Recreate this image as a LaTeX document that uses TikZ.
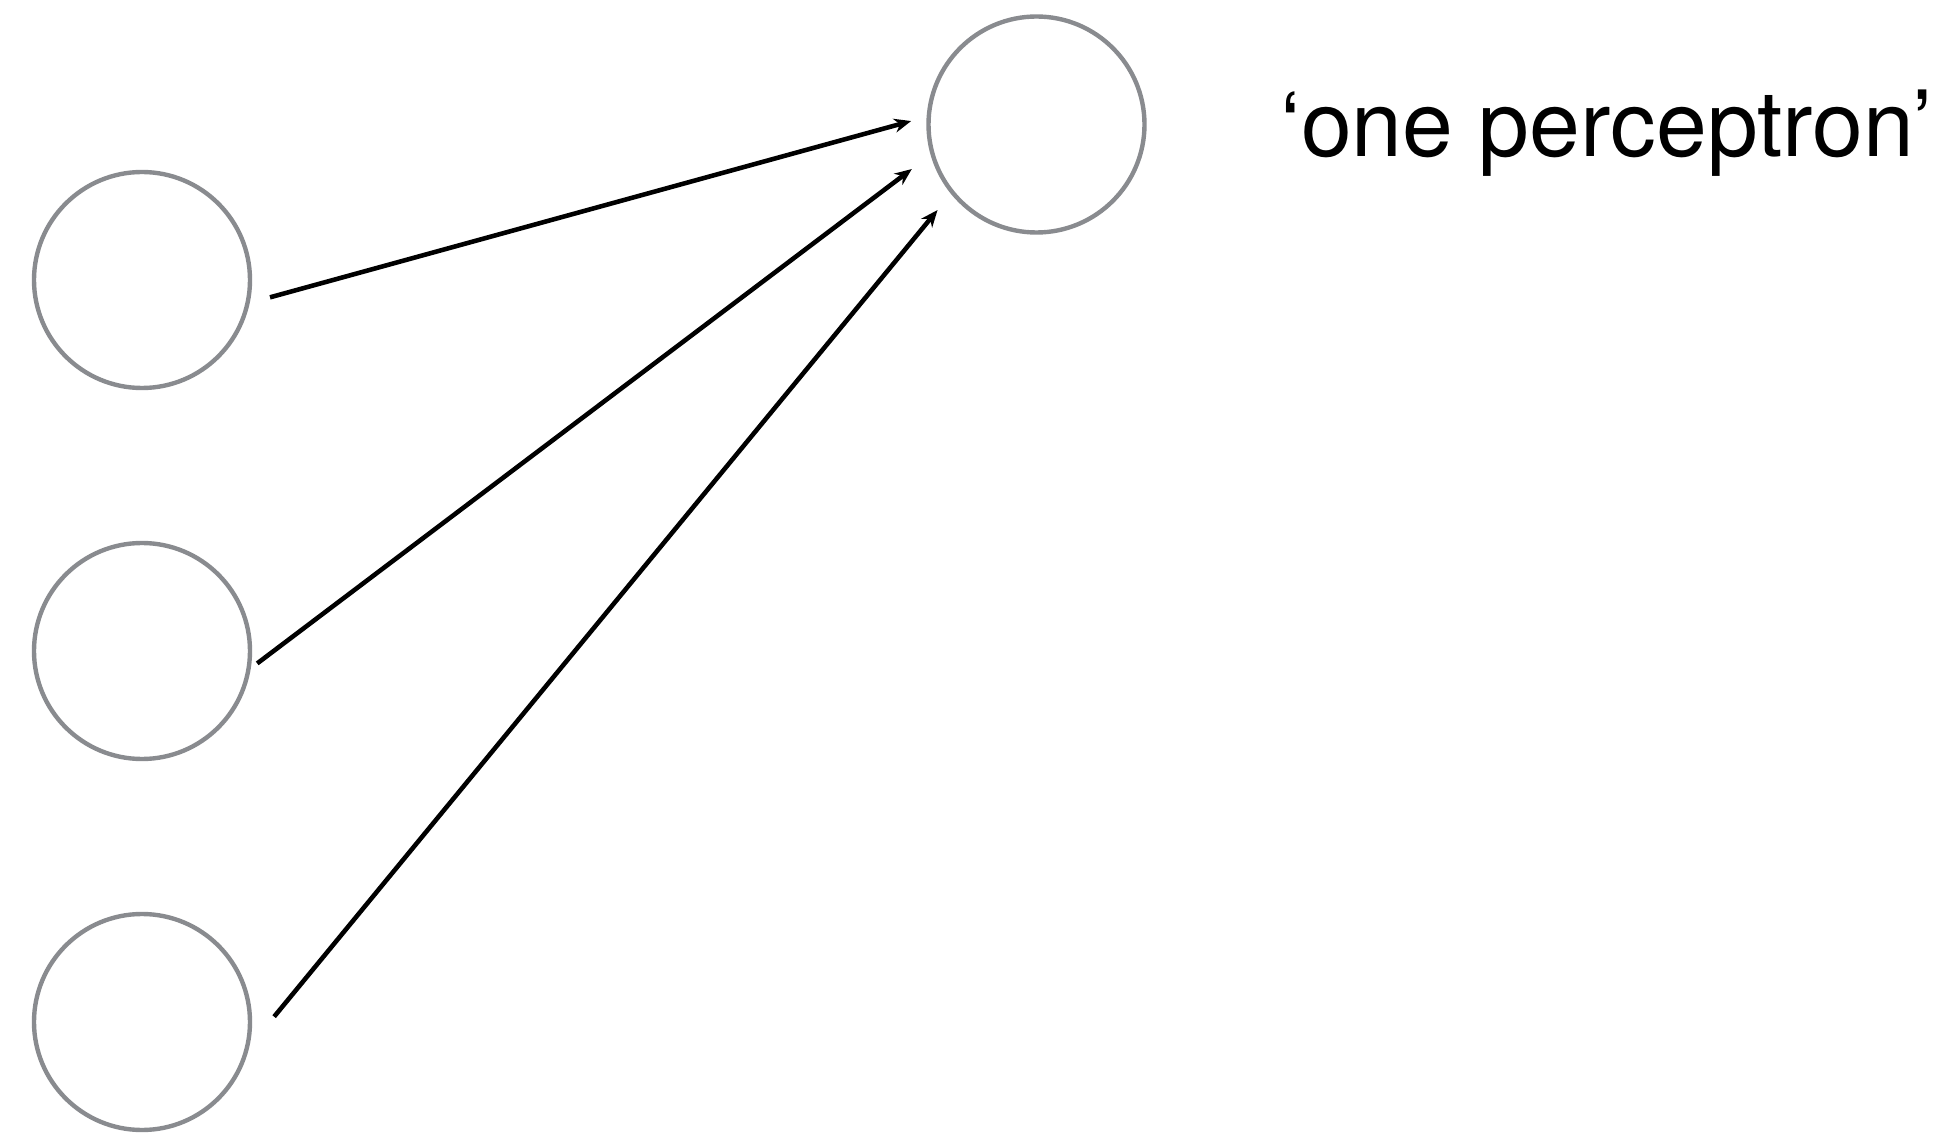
\documentclass[tikz,border=0pt]{standalone}
\usepackage{fontspec}
\setmainfont{TeX Gyre Heros}
\definecolor{NeuronGray}{RGB}{137,139,143}
\usetikzlibrary{arrows.meta, positioning}

\begin{document}
\begin{tikzpicture}[
	neuron/.style={circle, draw=NeuronGray, line width=1.25pt,
		minimum size=2.16cm, inner sep=0pt},
	fl/.style={-{Stealth[length=1.7mm, width=1.4mm]}, line width=1.3pt, black}]

	\useasboundingbox (0,0) rectangle (19.48,-11.35);

	% inputs
	\node[neuron] (in1) at (1.42,-2.80) {};
	\node[neuron] (in2) at (1.42,-6.51) {};
	\node[neuron] (in3) at (1.42,-10.22) {};

	% output
	\node[neuron] (out) at (10.365,-1.245) {};
	\node[anchor=base west, inner sep=0pt, font=\fontsize{26}{30}\selectfont]
		(lbl) at (12.80,-1.57) {‘one perceptron’};

	\draw[fl, shorten <=0.21cm, shorten >=0.16cm] (in1.-12.4) -- (out.176.5);
	\draw[fl, shorten <=0.08cm, shorten >=0.235cm] (in2.-9.4) -- (out.196);
	\draw[fl, shorten <=0.39cm, shorten >=0.21cm] (in3.-13.2) -- (out.219.9);
\end{tikzpicture}
\end{document}
